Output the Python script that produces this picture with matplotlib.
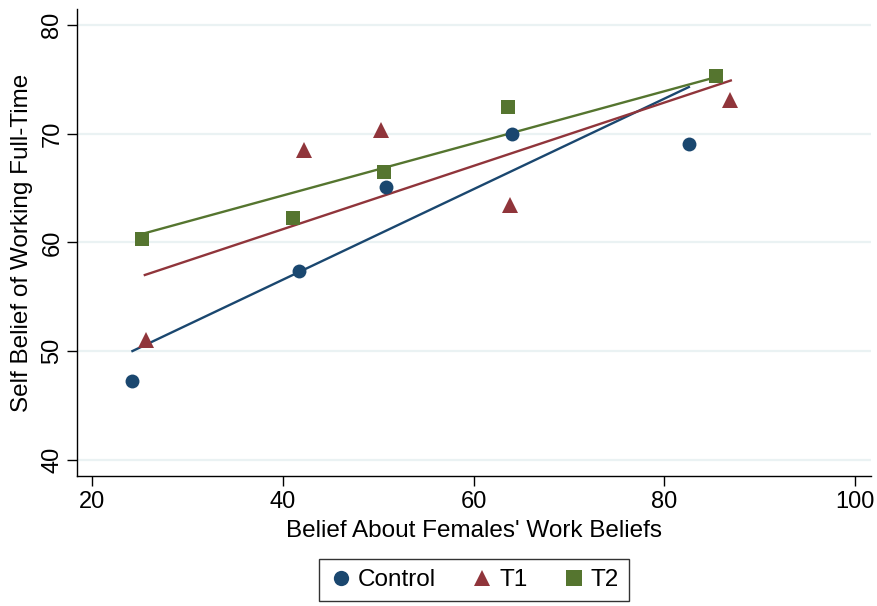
import matplotlib
matplotlib.use("Agg")
import matplotlib.pyplot as plt

plt.rcParams['font.family'] = ['Liberation Sans', 'DejaVu Sans']

# group means
control_x = [24.2, 41.7, 50.8, 64.0, 82.6]
control_y = [47.25, 57.4, 65.1, 70.0, 69.05]
t1_x = [25.6, 42.2, 50.3, 63.8, 86.9]
t1_y = [51.0, 68.5, 70.3, 63.4, 73.1]
t2_x = [25.25, 41.1, 50.65, 63.6, 85.4]
t2_y = [60.3, 62.25, 66.5, 72.5, 75.3]

# fitted lines (start / end)
control_fit_x = [24.2, 82.6]
control_fit_y = [50.0, 74.3]
t1_fit_x = [25.5, 87.0]
t1_fit_y = [57.0, 74.9]
t2_fit_x = [25.3, 85.4]
t2_fit_y = [60.8, 75.2]

groups = ['Control', 'T1', 'T2']
xticks = [20, 40, 60, 80, 100]
yticks = [40, 50, 60, 70, 80]

NAVY = '#1a476f'
MAROON = '#90353b'
GREEN = '#55752f'

fig = plt.figure(figsize=(8.77, 6.06), dpi=100)
ax = fig.add_axes([0.088, 0.2145, 0.905, 0.771])

series = [
    (control_x, control_y, control_fit_x, control_fit_y, NAVY, 'o', 10),
    (t1_x, t1_y, t1_fit_x, t1_fit_y, MAROON, '^', 11),
    (t2_x, t2_y, t2_fit_x, t2_fit_y, GREEN, 's', 10),
]

handles = []
for (xs, ys, fx, fy, col, mk, ms), name in zip(series, groups):
    h, = ax.plot(xs, ys, linestyle='none', marker=mk, color=col, markersize=ms,
                 markeredgewidth=0, label=name, zorder=3)
    handles.append(h)
    ax.plot(fx, fy, color=col, linewidth=1.7, zorder=2)

ax.set_xlim(18.4, 101.7)
ax.set_ylim(38.5, 81.5)
ax.set_xticks(xticks)
ax.set_yticks(yticks)
ax.grid(axis='y', color='#eaf2f3', linewidth=1.6, zorder=0)
ax.set_axisbelow(True)

for s in ['top', 'right']:
    ax.spines[s].set_visible(False)
for s in ['left', 'bottom']:
    ax.spines[s].set_linewidth(1.0)
    ax.spines[s].set_color('black')

ax.tick_params(axis='both', direction='out', length=7, width=1, labelsize=17)
ax.tick_params(axis='x', pad=4)
ax.tick_params(axis='y', pad=3)
for lab in ax.get_yticklabels():
    lab.set_rotation(90)
    lab.set_va('center')

ax.set_xlabel("Belief About Females' Work Beliefs", fontsize=17.5, labelpad=5)
ax.set_ylabel("Self Belief of Working Full-Time", fontsize=17.5, labelpad=6)

leg = fig.legend(handles=handles, labels=groups, loc='center',
                 bbox_to_anchor=(474 / 877, 1 - 580 / 606), ncol=3,
                 fontsize=17.5, frameon=True, fancybox=False, edgecolor='black',
                 handletextpad=0.2, columnspacing=1.4, handlelength=1.0,
                 borderpad=0.42, borderaxespad=0, markerscale=1.1)
leg.get_frame().set_linewidth(1.0)

plt.savefig('out.png', dpi=100)
